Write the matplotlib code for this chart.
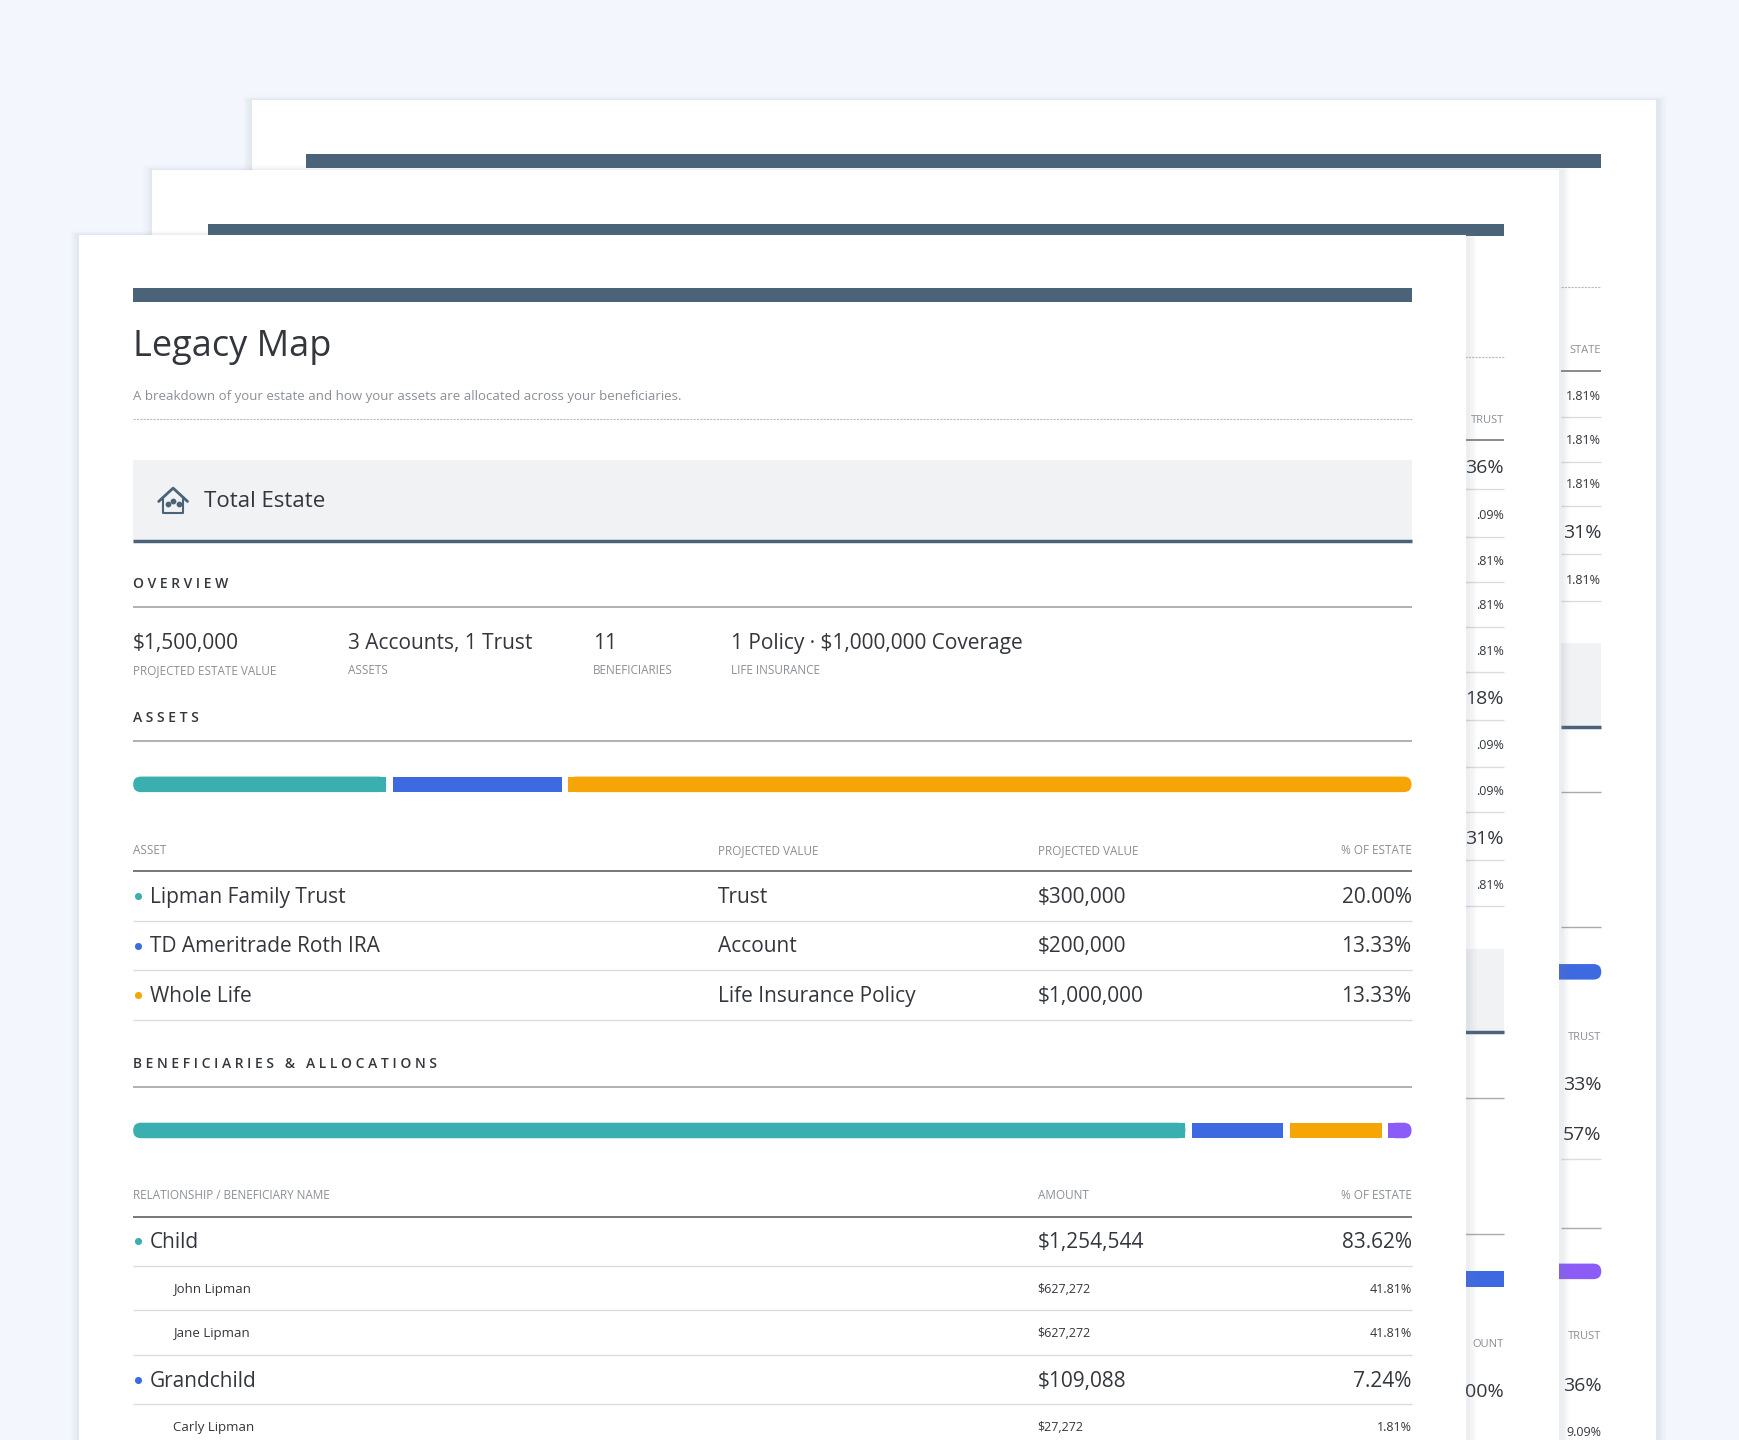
import matplotlib
matplotlib.use("Agg")
import matplotlib.pyplot as plt
from matplotlib.patches import Rectangle, FancyBboxPatch

plt.rcParams["font.family"] = ["Open Sans", "DejaVu Sans"]

# ---- data ----
overviewValues = ["$1,500,000", "3 Accounts, 1 Trust", "11", "1 Policy · $1,000,000 Coverage"]
overviewLabels = ["PROJECTED ESTATE VALUE", "ASSETS", "BENEFICIARIES", "LIFE INSURANCE"]

assetNames = ["Lipman Family Trust", "TD Ameritrade Roth IRA", "Whole Life"]
assetTypes = ["Trust", "Account", "Life Insurance Policy"]
assetValues = [300000, 200000, 1000000]
assetValueLabels = ["$300,000", "$200,000", "$1,000,000"]
assetPercents = ["20.00%", "13.33%", "13.33%"]

beneficiaryShares = [83.62, 7.24, 7.30, 1.84]
beneficiaryRows = ["Child", "John Lipman", "Jane Lipman", "Grandchild", "Carly Lipman"]
beneficiaryLevel = [0, 1, 1, 0, 1]
beneficiaryAmounts = ["$1,254,544", "$627,272", "$627,272", "$109,088", "$27,272"]
beneficiaryPercents = ["83.62%", "41.81%", "41.81%", "7.24%", "1.81%"]
beneficiaryColor = [0, None, None, 1, None]

page2Percents = ["36%", ".09%", ".81%", ".81%", ".81%", "18%", ".09%", ".09%", "31%", ".81%"]
page2Big = [True, False, False, False, False, True, False, False, True, False]
page3Percents = ["1.81%", "1.81%", "1.81%", "31%", "1.81%"]
page3Big = [False, False, False, True, False]

# ---- style ----
BG = "#F3F7FD"
NAVY = "#4A6379"
DARK = "#33373D"
GREY = "#8A8F96"
LINE = "#D9DCE0"
SEG = ["#3AAFB0", "#3E6AE1", "#F5A506", "#8B5CF6"]
MW = "medium"

W, H = 1568, 1298
fig = plt.figure(figsize=(17.4, 14.4), dpi=100)
ax = fig.add_axes([0, 0, 1, 1])
ax.set_xlim(0, W)
ax.set_ylim(H, 0)
ax.axis("off")
fig.patch.set_facecolor(BG)


def page(x0, y0, x1, z):
    for i, a in enumerate([0.05, 0.04, 0.03, 0.02]):
        ax.add_patch(Rectangle((x0 - 2 - i * 2, y0 - 1 - i), x1 - x0 + 6 + i * 4, H, color="#7F8A99",
                               alpha=a, lw=0, zorder=z - 0.1))
    ax.add_patch(Rectangle((x0, y0), x1 - x0, H, color="white", lw=0, zorder=z))


def hline(x0, x1, y, z, color=LINE, lw=1.0, ls="-"):
    ax.plot([x0, x1], [y, y], color=color, lw=lw, ls=ls, zorder=z, solid_capstyle="butt")


def segbar(x0, x1, y, values, z, gap=6, h=14):
    total = sum(values)
    span = x1 - x0 - gap * (len(values) - 1)
    pos = x0
    for i, v in enumerate(values):
        w = span * v / total
        if i in (0, len(values) - 1):
            ax.add_patch(FancyBboxPatch((pos, y - h / 2), w, h, boxstyle="round,pad=0,rounding_size=7",
                                        color=SEG[i], lw=0, zorder=z))
            sx = pos + w / 2 if i == 0 else pos
            ax.add_patch(Rectangle((sx, y - h / 2), w / 2, h, color=SEG[i], lw=0, zorder=z))
        else:
            ax.add_patch(Rectangle((pos, y - h / 2), w, h, color=SEG[i], lw=0, zorder=z))
        pos += w + gap


# ---- back page 3 ----
page(227, 90, 1492, 1)
ax.add_patch(Rectangle((276, 139), 1443 - 276, 12, color=NAVY, lw=0, zorder=1.2))
hline(1407, 1443, 259, 1.2, color="#BBBBBB", lw=0.8, ls=(0, (2, 1)))
ax.text(1443, 316, "STATE", ha="right", va="center", fontsize=8, color=GREY, zorder=1.2)
hline(1407, 1443, 334, 1.2, color="#777777", lw=1.2)
ys = [356, 396, 436, 479, 522]
for y, t, big in zip(ys, page3Percents, page3Big):
    ax.text(1443, y + 1, t, ha="right", va="center", fontsize=14 if big else 9, color=DARK,
            fontweight=MW, zorder=1.2)
    hline(1407, 1443, y + 20, 1.2)
ax.add_patch(Rectangle((1407, 580), 36, 75, color="#F1F2F4", lw=0, zorder=1.2))
hline(1407, 1443, 655, 1.3, color=NAVY, lw=2.5)
hline(1407, 1443, 714, 1.2, color="#AAAAAA")
hline(1407, 1443, 836, 1.2, color="#AAAAAA")
ax.add_patch(FancyBboxPatch((1380, 869), 63, 14, boxstyle="round,pad=0,rounding_size=7", color=SEG[1], lw=0, zorder=1.2))
ax.text(1443, 935, "TRUST", ha="right", va="center", fontsize=8, color=GREY, zorder=1.2)
ax.text(1443, 978, "33%", ha="right", va="center", fontsize=14, color=DARK, fontweight=MW, zorder=1.2)
ax.text(1443, 1023, "57%", ha="right", va="center", fontsize=14, color=DARK, fontweight=MW, zorder=1.2)
hline(1407, 1443, 1045, 1.2)
hline(1407, 1443, 1107, 1.2, color="#AAAAAA")
ax.add_patch(FancyBboxPatch((1380, 1139), 63, 14, boxstyle="round,pad=0,rounding_size=7", color=SEG[3], lw=0, zorder=1.2))
ax.text(1443, 1205, "TRUST", ha="right", va="center", fontsize=8, color=GREY, zorder=1.2)
ax.text(1443, 1249, "36%", ha="right", va="center", fontsize=14, color=DARK, fontweight=MW, zorder=1.2)
ax.text(1443, 1291, "9.09%", ha="right", va="center", fontsize=9, color=DARK, fontweight=MW, zorder=1.2)

# ---- middle page 2 ----
page(137, 153, 1405, 2)
ax.add_patch(Rectangle((187, 202), 1355 - 187, 11, color=NAVY, lw=0, zorder=2.2))
hline(1320, 1355, 322, 2.2, color="#BBBBBB", lw=0.8, ls=(0, (2, 1)))
ax.text(1355, 379, "TRUST", ha="right", va="center", fontsize=8, color=GREY, zorder=2.2)
hline(1320, 1355, 397, 2.2, color="#777777", lw=1.2)
ys = [421, 464, 505, 545, 586, 629, 671, 712, 755, 797]
for y, t, big in zip(ys, page2Percents, page2Big):
    ax.text(1355, y + 1, t, ha="right", va="center", fontsize=14 if big else 9, color=DARK,
            fontweight=MW, zorder=2.2)
    hline(1320, 1355, y + 20, 2.2)
ax.add_patch(Rectangle((1320, 855), 35, 75, color="#F1F2F4", lw=0, zorder=2.2))
hline(1320, 1355, 930, 2.3, color=NAVY, lw=2.5)
hline(1320, 1355, 990, 2.2, color="#AAAAAA")
hline(1320, 1355, 1112, 2.2, color="#AAAAAA")
ax.add_patch(Rectangle((1300, 1146), 55, 14, color=SEG[1], lw=0, zorder=2.2))
ax.text(1355, 1212, "OUNT", ha="right", va="center", fontsize=8, color=GREY, zorder=2.2)
ax.text(1355, 1255, "00%", ha="right", va="center", fontsize=14, color=DARK, fontweight=MW, zorder=2.2)

# ---- front page 1 ----
Z = 3.2
L, R = 120, 1272
page(71, 212, 1321, 3)
ax.add_patch(Rectangle((L, 260), R - L, 12, color=NAVY, lw=0, zorder=Z))
ax.text(L, 313, "Legacy Map", ha="left", va="center", fontsize=26, color=DARK, fontweight=MW, zorder=Z)
ax.text(L, 357, "A breakdown of your estate and how your assets are allocated across your beneficiaries.",
        ha="left", va="center", fontsize=9.5, color=GREY, zorder=Z)
hline(L, R, 378, Z, color="#BBBBBB", lw=0.8, ls=(0, (2, 1)))

ax.add_patch(Rectangle((L, 415), R - L, 72, color="#F1F2F4", lw=0, zorder=Z))
hline(L, R, 488, Z + 0.1, color=NAVY, lw=2.5)
# house icon
ax.plot([143, 156, 169], [452, 440, 452], color=NAVY, lw=2, zorder=Z + 0.1, solid_capstyle="round")
ax.plot([147, 147, 165, 165], [449, 462, 462, 449], color=NAVY, lw=1.5, zorder=Z + 0.1)
ax.scatter([151, 156, 161], [454, 452, 454], s=10, color=NAVY, zorder=Z + 0.2)
ax.text(184, 452, "Total Estate", ha="left", va="center", fontsize=16, color=DARK, fontweight=MW, zorder=Z)


def section(title, y, lineY):
    ax.text(L, y, title, ha="left", va="center", fontsize=10, color=DARK, fontweight="semibold", zorder=Z)
    hline(L, R, lineY, Z, color="#AAAAAA", lw=1.3)


section("O V E R V I E W", 526, 547)
for x, v, lab in zip([120, 314, 534, 659], overviewValues, overviewLabels):
    ax.text(x, 580, v, ha="left", va="center", fontsize=15, color=DARK, fontweight=MW, zorder=Z)
    ax.text(x, 604, lab, ha="left", va="center", fontsize=8.5, color=GREY, zorder=Z)

section("A S S E T S", 647, 668)
segbar(L, R, 707, assetValues, Z)
cols = [120, 647, 935]
for x, t in zip(cols, ["ASSET", "PROJECTED VALUE", "PROJECTED VALUE"]):
    ax.text(x, 767, t, ha="left", va="center", fontsize=8.5, color=GREY, zorder=Z)
ax.text(R, 767, "% OF ESTATE", ha="right", va="center", fontsize=8.5, color=GREY, zorder=Z)
hline(L, R, 785, Z, color="#777777", lw=1.4)
for i, (n, t, v, p) in enumerate(zip(assetNames, assetTypes, assetValueLabels, assetPercents)):
    y = 808 + i * 44.5
    ax.scatter([124], [y], s=26, color=SEG[i], zorder=Z + 0.1, lw=0)
    for x, s, ha in [(135, n, "left"), (647, t, "left"), (935, v, "left"), (R, p, "right")]:
        ax.text(x, y + 1, s, ha=ha, va="center", fontsize=15, color=DARK, fontweight=MW, zorder=Z)
    hline(L, R, y + 22, Z)

section("B E N E F I C I A R I E S   &   A L L O C A T I O N S", 959, 980)
segbar(L, R, 1019, beneficiaryShares, Z)
ax.text(L, 1078, "RELATIONSHIP / BENEFICIARY NAME", ha="left", va="center", fontsize=8.5, color=GREY, zorder=Z)
ax.text(935, 1078, "AMOUNT", ha="left", va="center", fontsize=8.5, color=GREY, zorder=Z)
ax.text(R, 1078, "% OF ESTATE", ha="right", va="center", fontsize=8.5, color=GREY, zorder=Z)
hline(L, R, 1097, Z, color="#777777", lw=1.4)
ys = [1119, 1161, 1201, 1244, 1286]
for y, n, lvl, a, p, c in zip(ys, beneficiaryRows, beneficiaryLevel, beneficiaryAmounts,
                              beneficiaryPercents, beneficiaryColor):
    if lvl == 0:
        ax.scatter([124], [y], s=26, color=SEG[c], zorder=Z + 0.1, lw=0)
        for x, s, ha in [(135, n, "left"), (935, a, "left"), (R, p, "right")]:
            ax.text(x, y + 1, s, ha=ha, va="center", fontsize=15, color=DARK, fontweight=MW, zorder=Z)
        hline(L, R, y + 22, Z)
    else:
        ax.text(156, y + 1, n, ha="left", va="center", fontsize=9.5, color=DARK, fontweight=MW, zorder=Z)
        ax.text(935, y + 1, a, ha="left", va="center", fontsize=9, color=DARK, fontweight=MW, zorder=Z)
        ax.text(R, y + 1, p, ha="right", va="center", fontsize=9, color=DARK, fontweight=MW, zorder=Z)
        hline(L, R, y + 20, Z)

fig.savefig("out.png", facecolor=BG)
